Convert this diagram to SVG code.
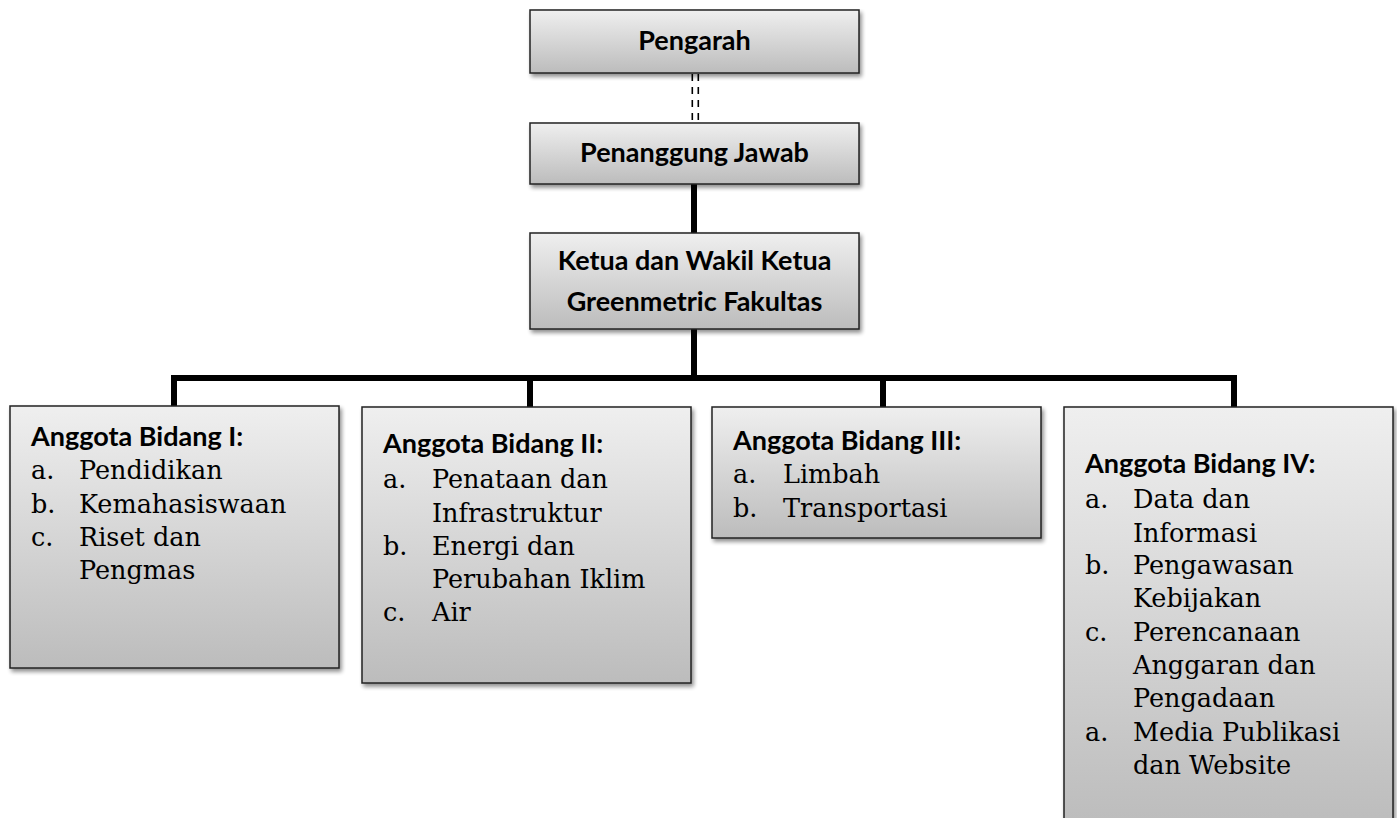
<svg xmlns="http://www.w3.org/2000/svg" width="1397" height="818" viewBox="0 0 1397 818">
<defs>
<linearGradient id="g" x1="0" y1="0" x2="0" y2="1">
<stop offset="0" stop-color="#efefef"/>
<stop offset="1" stop-color="#bcbcbc"/>
</linearGradient>
<filter id="sh" x="-5%" y="-5%" width="115%" height="120%">
<feGaussianBlur in="SourceAlpha" stdDeviation="2"/>
<feOffset dx="2" dy="3" result="b"/>
<feComponentTransfer><feFuncA type="linear" slope="0.45"/></feComponentTransfer>
<feMerge><feMergeNode/><feMergeNode in="SourceGraphic"/></feMerge>
</filter>
</defs>
<style>
.box{fill:url(#g);stroke:#222;stroke-width:1.5;filter:url(#sh)}
.t{font-family:Lato,"Open Sans",sans-serif;font-weight:bold;font-size:27px;fill:#000}
.c{text-anchor:middle}
.s{font-family:"DejaVu Serif",serif;font-size:25.5px;fill:#000}
.solid{stroke:#000;stroke-width:6;fill:none}
.dash{stroke:#000;stroke-width:1.6;stroke-dasharray:7 6;fill:none}
</style>
<rect width="1397" height="818" fill="#fff"/>
<g id="connectors">
<line class="dash" x1="692.3" y1="74" x2="692.3" y2="123"/>
<line class="dash" x1="698.3" y1="74" x2="698.3" y2="123"/>
<line class="solid" x1="694" y1="184" x2="694" y2="233"/>
<line class="solid" x1="694" y1="329" x2="694" y2="378"/>
<polyline class="solid" points="174,406 174,378 1234,378 1234,407"/>
<line class="solid" x1="530" y1="378" x2="530" y2="407"/>
<line class="solid" x1="883" y1="378" x2="883" y2="407"/>
</g>
<g id="pengarah">
<rect class="box" x="530" y="10" width="329" height="63"/>
<text class="t c" x="694.5" y="50">Pengarah</text>
</g>
<g id="penanggung-jawab">
<rect class="box" x="530" y="123" width="329" height="61"/>
<text class="t c" x="694.5" y="162">Penanggung Jawab</text>
</g>
<g id="ketua">
<rect class="box" x="530" y="233" width="329" height="96"/>
<text class="t c" x="694.5" y="270">Ketua dan Wakil Ketua</text>
<text class="t c" x="694.5" y="311">Greenmetric Fakultas</text>
</g>
<g id="bidang-1">
<rect class="box" x="10" y="406" width="329" height="262"/>
<text class="t" x="31" y="446">Anggota Bidang I:</text>
<text class="s" x="31" y="479">a.</text><text class="s" x="79" y="479">Pendidikan</text>
<text class="s" x="31" y="513">b.</text><text class="s" x="79" y="513">Kemahasiswaan</text>
<text class="s" x="31" y="546">c.</text><text class="s" x="79" y="546">Riset dan</text>
<text class="s" x="79" y="579">Pengmas</text>
</g>
<g id="bidang-2">
<rect class="box" x="362" y="407" width="329" height="276"/>
<text class="t" x="383" y="453">Anggota Bidang II:</text>
<text class="s" x="383" y="488">a.</text><text class="s" x="432" y="488">Penataan dan</text>
<text class="s" x="432" y="522">Infrastruktur</text>
<text class="s" x="383" y="555">b.</text><text class="s" x="432" y="555">Energi dan</text>
<text class="s" x="432" y="588">Perubahan Iklim</text>
<text class="s" x="383" y="621">c.</text><text class="s" x="432" y="621">Air</text>
</g>
<g id="bidang-3">
<rect class="box" x="712" y="407" width="329" height="131"/>
<text class="t" x="733" y="450">Anggota Bidang III:</text>
<text class="s" x="733" y="483">a.</text><text class="s" x="783" y="483">Limbah</text>
<text class="s" x="733" y="517">b.</text><text class="s" x="783" y="517">Transportasi</text>
</g>
<g id="bidang-4">
<rect class="box" x="1064" y="407" width="329" height="420"/>
<text class="t" x="1085" y="473">Anggota Bidang IV:</text>
<text class="s" x="1085" y="508">a.</text><text class="s" x="1133" y="508">Data dan</text>
<text class="s" x="1133" y="542">Informasi</text>
<text class="s" x="1085" y="574">b.</text><text class="s" x="1133" y="574">Pengawasan</text>
<text class="s" x="1133" y="607">Kebijakan</text>
<text class="s" x="1085" y="641">c.</text><text class="s" x="1133" y="641">Perencanaan</text>
<text class="s" x="1133" y="674">Anggaran dan</text>
<text class="s" x="1133" y="707">Pengadaan</text>
<text class="s" x="1085" y="741">a.</text><text class="s" x="1133" y="741">Media Publikasi</text>
<text class="s" x="1133" y="774">dan Website</text>
</g>
</svg>
